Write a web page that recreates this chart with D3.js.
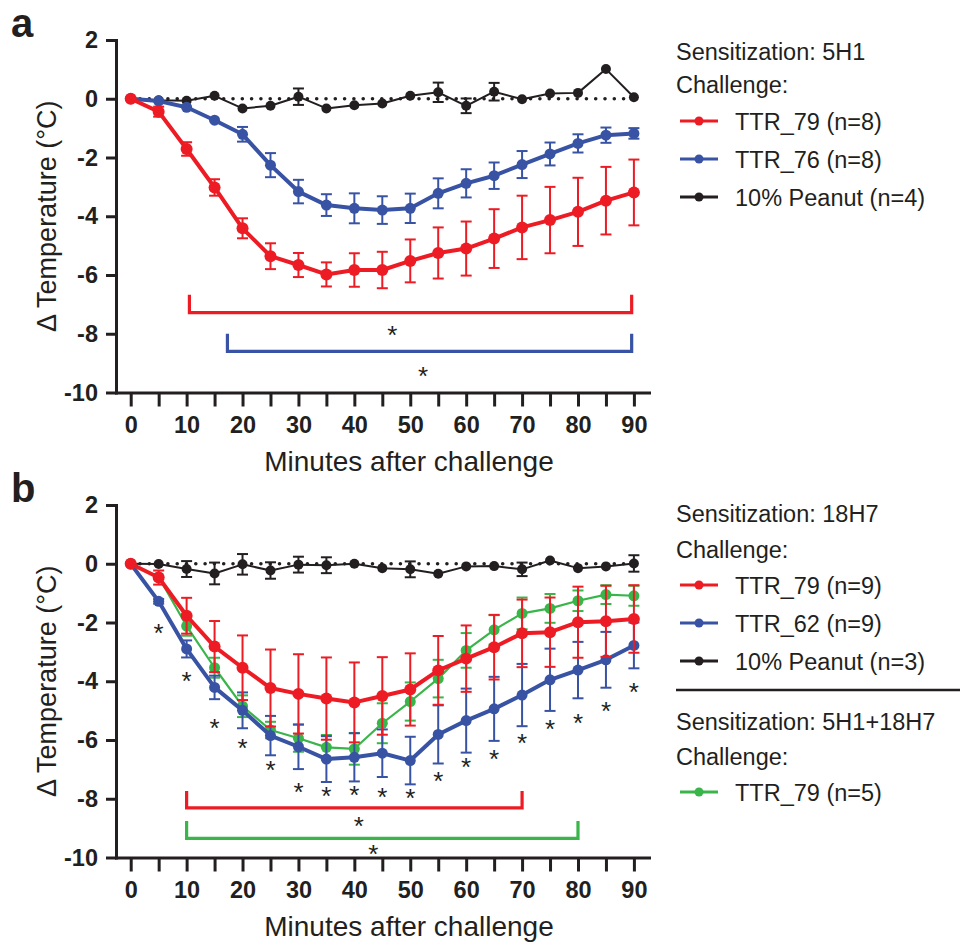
<!DOCTYPE html>
<html><head><meta charset="utf-8">
<script src="https://cdn.jsdelivr.net/npm/d3@7/dist/d3.min.js"></script>
<style>
body{margin:0;background:#fff}
svg{display:block}
text{font-family:"Liberation Sans",Arial,Helvetica,sans-serif;fill:#231f20}
</style></head>
<body><svg id="chart" width="960" height="942"></svg>
<script>
// ---------- data ----------
const minutes = [0,5,10,15,20,25,30,35,40,45,50,55,60,65,70,75,80,85,90];
const yTicks = [2,0,-2,-4,-6,-8,-10];
const xTickLabels = [0,10,20,30,40,50,60,70,80,90];

// Panel a: Sensitization 5H1
const aTTR79    = [0,-0.44,-1.71,-3.02,-4.41,-5.36,-5.66,-5.98,-5.83,-5.83,-5.52,-5.25,-5.10,-4.76,-4.38,-4.13,-3.85,-3.47,-3.19];
const aTTR79Err = [0,0.17,0.23,0.28,0.34,0.44,0.41,0.41,0.57,0.62,0.73,0.87,0.92,1.00,1.08,1.13,1.16,1.15,1.12];
const aTTR76    = [0,-0.08,-0.29,-0.73,-1.21,-2.26,-3.16,-3.62,-3.73,-3.79,-3.73,-3.22,-2.88,-2.62,-2.24,-1.88,-1.52,-1.24,-1.18];
const aTTR76Err = [0,0,0,0,0.25,0.41,0.40,0.37,0.51,0.47,0.50,0.51,0.48,0.45,0.46,0.39,0.31,0.26,0.18];
const aPeanut    = [0,-0.05,-0.07,0.10,-0.33,-0.24,0.07,-0.33,-0.22,-0.16,0.10,0.22,-0.24,0.24,-0.02,0.18,0.20,1.01,0.05];
const aPeanutErr = [0,0,0,0,0,0,0.28,0,0,0,0,0.33,0.25,0.30,0,0,0,0,0];

// Panel b: Sensitization 18H7 (+ 5H1+18H7)
const bTTR79    = [0,-0.47,-1.77,-2.82,-3.54,-4.23,-4.43,-4.59,-4.72,-4.50,-4.28,-3.63,-3.23,-2.84,-2.37,-2.33,-1.99,-1.96,-1.88];
const bTTR79Err = [0,0.24,0.61,0.87,1.10,1.31,1.35,1.40,1.36,1.32,1.23,1.17,1.13,1.10,1.15,1.18,1.21,1.21,1.15];
const bTTR62    = [0,-1.28,-2.90,-4.21,-4.99,-5.85,-6.23,-6.65,-6.59,-6.45,-6.70,-5.81,-5.34,-4.94,-4.47,-3.95,-3.62,-3.27,-2.78];
const bTTR62Err = [0,0.08,0.29,0.40,0.61,0.67,0.76,0.78,0.82,0.81,0.81,0.99,1.09,1.09,1.06,1.06,0.96,0.95,0.78];
const bPeanut    = [0,-0.01,-0.18,-0.33,-0.02,-0.23,-0.03,-0.05,0,-0.15,-0.19,-0.34,-0.09,-0.08,-0.19,0.11,-0.15,-0.09,0.01];
const bPeanutErr = [0,0,0.27,0.37,0.35,0.28,0.27,0.27,0,0,0.27,0,0,0,0.23,0,0,0,0.28];
const bCombo79    = [0,-0.45,-2.12,-3.54,-4.85,-5.66,-5.94,-6.25,-6.30,-5.43,-4.69,-3.91,-2.95,-2.25,-1.69,-1.52,-1.26,-1.05,-1.09];
const bCombo79Err = [0,0,0.33,0.34,0.37,0.28,0.46,0.42,0.54,0.68,0.65,0.64,0.59,0.50,0.54,0.49,0.35,0.32,0.34];

// significance stars under TTR_62 in panel b
const bStarMinutes = [5,10,15,20,25,30,35,40,45,50,55,60,65,70,75,80,85,90];
const bStarLevels  = [-2.17,-3.79,-5.40,-6.06,-6.83,-7.57,-7.69,-7.68,-7.73,-7.76,-7.20,-6.70,-6.45,-5.90,-5.41,-5.22,-4.82,-4.15];

// brackets: [start minute, end minute, top level, bar level], star [minute, level]
const aBracketRed  = [10.5, 89.6, -6.67, -7.28]; const aStarRed  = [46.8, -7.85];
const aBracketBlue = [17.3, 89.6, -8.00, -8.60]; const aStarBlue = [52.3, -9.25];
const bBracketRed  = [10, 70, -7.74, -8.31];     const bStarRed  = [40.8, -8.71];
const bBracketGreen= [10, 80, -8.76, -9.35];     const bStarGreen= [43.4, -9.69];

const legendA = ["TTR_79 (n=8)","TTR_76 (n=8)","10% Peanut (n=4)"];
const legendB = ["TTR_79 (n=9)","TTR_62 (n=9)","10% Peanut (n=3)"];
const legendB2 = ["TTR_79 (n=5)"];

// ---------- style ----------
const RED="#ED1C24", BLUE="#3953A4", BLACK="#231F20", GREEN="#39B54A";
const svg = d3.select("#chart");

const x = d3.scaleLinear().domain([-2.63, 92.7]).range([116, 649]);

function drawPanel(top, letter, series, brackets, stars) {
  const y = d3.scaleLinear().domain([-10, 2]).range([top + 352.5, top]);
  const g = svg.append("g");

  // panel letter
  g.append("text").attr("x", 11).attr("y", top - 3).attr("font-size", 40)
    .attr("font-weight", "bold").text(letter);

  // axes
  const ya = g.append("g").attr("transform", "translate(116,0)")
    .call(d3.axisLeft(y).tickValues(yTicks).tickSize(10).tickSizeOuter(0).tickPadding(8)
      .tickFormat(d => d));
  const xa = g.append("g").attr("transform", `translate(0,${y(-10)})`)
    .call(d3.axisBottom(x).tickValues(minutes).tickSize(14).tickSizeOuter(0).tickPadding(10)
      .tickFormat(d => xTickLabels.includes(d) ? d : ""));
  [ya, xa].forEach(a => {
    a.select(".domain").attr("stroke", BLACK).attr("stroke-width", 3).attr("stroke-linecap", "square");
    a.selectAll(".tick line").attr("stroke", BLACK).attr("stroke-width", 3);
    a.selectAll(".tick text").attr("font-size", 23.5).attr("font-weight", "bold")
      .attr("font-family", '"Liberation Sans",Arial,sans-serif').attr("fill", BLACK);
  });

  // axis titles
  g.append("text").attr("transform", `translate(56,${y(-4)}) rotate(-90)`)
    .attr("text-anchor", "middle").attr("font-size", 27).text("\u0394 Temperature (\u00B0C)");
  g.append("text").attr("x", 409).attr("y", y(-10) + 78).attr("text-anchor", "middle")
    .attr("font-size", 28).text("Minutes after challenge");

  // dotted zero line
  g.append("line").attr("x1", x(0)).attr("x2", x(90)).attr("y1", y(0)).attr("y2", y(0))
    .attr("stroke", BLACK).attr("stroke-width", 3.6).attr("stroke-linecap", "round")
    .attr("stroke-dasharray", "0,9.3");

  // series
  series.forEach(s => {
    const sg = g.append("g");
    const pts = minutes.map((m, i) => ({m, v: s.values[i], e: s.err[i]}));
    pts.filter(p => p.e > 0).forEach(p => {
      sg.append("line").attr("x1", x(p.m)).attr("x2", x(p.m))
        .attr("y1", y(p.v + p.e)).attr("y2", y(p.v - p.e))
        .attr("stroke", s.color).attr("stroke-width", 2);
      [p.v + p.e, p.v - p.e].forEach(c => sg.append("line")
        .attr("x1", x(p.m) - 5.5).attr("x2", x(p.m) + 5.5).attr("y1", y(c)).attr("y2", y(c))
        .attr("stroke", s.color).attr("stroke-width", 2));
    });
    sg.append("path").datum(pts)
      .attr("d", d3.line().x(p => x(p.m)).y(p => y(p.v)))
      .attr("fill", "none").attr("stroke", s.color).attr("stroke-width", s.lw)
      .attr("stroke-linejoin", "round");
    sg.selectAll("circle").data(pts).join("circle")
      .attr("cx", p => x(p.m)).attr("cy", p => y(p.v)).attr("r", s.r).attr("fill", s.color);
  });

  // brackets
  brackets.forEach(b => {
    const [m0, m1, t, bar] = b.pos;
    g.append("path")
      .attr("d", `M${x(m0)},${y(t)}V${y(bar)}H${x(m1)}V${y(t)}`)
      .attr("fill", "none").attr("stroke", b.color).attr("stroke-width", 3.2);
    g.append("text").attr("x", x(b.star[0])).attr("y", y(b.star[1]) + 15)
      .attr("text-anchor", "middle").attr("font-size", 26).text("*");
  });

  // stars
  if (stars) {
    g.selectAll("text.star").data(stars.m).join("text").attr("class", "star")
      .attr("x", d => x(d)).attr("y", (d, i) => y(stars.v[i]) + 15)
      .attr("text-anchor", "middle").attr("font-size", 26).text("*");
  }
}

drawPanel(40, "a",
  [{values: aPeanut, err: aPeanutErr, color: BLACK, lw: 2, r: 5},
   {values: aTTR76, err: aTTR76Err, color: BLUE, lw: 4, r: 5.5},
   {values: aTTR79, err: aTTR79Err, color: RED, lw: 4, r: 6}],
  [{pos: aBracketRed, star: aStarRed, color: RED}, {pos: aBracketBlue, star: aStarBlue, color: BLUE}],
  null);

drawPanel(505, "b",
  [{values: bPeanut, err: bPeanutErr, color: BLACK, lw: 2, r: 5},
   {values: bCombo79, err: bCombo79Err, color: GREEN, lw: 2.2, r: 5.5},
   {values: bTTR62, err: bTTR62Err, color: BLUE, lw: 4, r: 5.5},
   {values: bTTR79, err: bTTR79Err, color: RED, lw: 4, r: 6}],
  [{pos: bBracketRed, star: bStarRed, color: RED}, {pos: bBracketGreen, star: bStarGreen, color: GREEN}],
  {m: bStarMinutes, v: bStarLevels});

// ---------- legends ----------
function legendEntry(yLine, color, label) {
  svg.append("line").attr("x1", 680).attr("x2", 718).attr("y1", yLine).attr("y2", yLine)
    .attr("stroke", color).attr("stroke-width", 3);
  svg.append("circle").attr("cx", 699).attr("cy", yLine).attr("r", 4.5).attr("fill", color);
  svg.append("text").attr("x", 735).attr("y", yLine + 8.5).attr("font-size", 23.5).text(label);
}
function heading(yb, t) {
  svg.append("text").attr("x", 676).attr("y", yb).attr("font-size", 23.5).text(t);
}
heading(60, "Sensitization: 5H1");
heading(93, "Challenge:");
legendA.forEach((l, i) => legendEntry(121 + i * 38, [RED, BLUE, BLACK][i], l));

heading(522, "Sensitization: 18H7");
heading(558, "Challenge:");
legendB.forEach((l, i) => legendEntry(585 + i * 38, [RED, BLUE, BLACK][i], l));
svg.append("line").attr("x1", 676).attr("x2", 960).attr("y1", 690).attr("y2", 690)
  .attr("stroke", BLACK).attr("stroke-width", 2.5);
heading(730, "Sensitization: 5H1+18H7");
heading(765, "Challenge:");
legendB2.forEach(l => legendEntry(792, GREEN, l));
</script></body></html>
